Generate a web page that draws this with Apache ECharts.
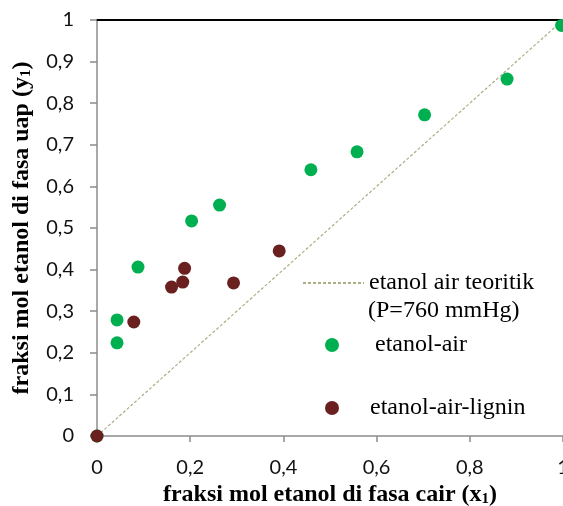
<!DOCTYPE html>
<html>
<head>
<meta charset="utf-8">
<script src="https://cdn.jsdelivr.net/npm/echarts@6/dist/echarts.min.js"></script>
<style>
  html, body { margin: 0; padding: 0; background: #fff; }
  #chart { width: 563px; height: 506px; }
</style>
</head>
<body>
<div id="chart"></div>
<script>
// data
var teoriX = [0, 1];
var teoriY = [0, 1];
var airX = [0, 0.043, 0.043, 0.088, 0.203, 0.263, 0.459, 0.558, 0.703, 0.880, 0.997];
var airY = [0, 0.224, 0.279, 0.406, 0.517, 0.555, 0.640, 0.683, 0.772, 0.858, 0.987];
var ligninX = [0, 0.079, 0.160, 0.184, 0.188, 0.293, 0.391];
var ligninY = [0, 0.274, 0.358, 0.370, 0.403, 0.368, 0.445];

function pairs(xs, ys) {
  var out = [];
  for (var i = 0; i < xs.length; i++) out.push([xs[i], ys[i]]);
  return out;
}

function koma(v) {
  return String(Math.round(v * 10) / 10).replace('.', ',');
}

var chart = echarts.init(document.getElementById('chart'));

var serif = '"Liberation Serif", "Times New Roman", serif';
var sans = 'Lato, "Open Sans", sans-serif';
var legendText = { fontFamily: serif, fontSize: 24, color: '#000' };

var option = {
  animation: false,
  grid: { left: 97, right: 0, top: 20, bottom: 70, containLabel: false, outerBoundsMode: 'none' },
  legend: [
    {
      data: ['etanol air teoritik'],
      left: 302, top: 271, padding: 0, itemWidth: 61, itemHeight: 28,
      itemStyle: { opacity: 0 },
      textStyle: legendText
    },
    {
      data: ['etanol-air'],
      left: 325, top: 333, padding: 0, itemWidth: 14, itemHeight: 28,
      textStyle: Object.assign({ padding: [0, 0, 0, 31] }, legendText)
    },
    {
      data: ['etanol-air-lignin'],
      left: 325, top: 396, padding: 0, itemWidth: 14, itemHeight: 28,
      textStyle: Object.assign({ padding: [0, 0, 0, 26] }, legendText)
    }
  ],
  graphic: [
    {
      type: 'text', left: 368, top: 299,
      style: { text: '(P=760 mmHg)', font: '24px ' + serif, fill: '#000' }
    }
  ],
  xAxis: [
    {
      type: 'value', min: 0, max: 1, interval: 0.2,
      name: 'fraksi mol etanol di fasa cair (x{s|1})',
      nameLocation: 'middle', nameGap: 46,
      nameTextStyle: {
        fontFamily: serif, fontSize: 24, fontWeight: 'bold', color: '#000',
        rich: { s: { fontFamily: serif, fontSize: 15, fontWeight: 'bold', color: '#000', padding: [9, 0, 0, 0] } }
      },
      axisLine: { show: true, onZero: false, lineStyle: { color: '#8c8c8c', width: 1.5 } },
      axisTick: { show: true, length: 6, lineStyle: { color: '#8c8c8c', width: 1.5 } },
      splitLine: { show: false },
      axisLabel: { formatter: koma, margin: 22, fontFamily: sans, fontSize: 20, color: '#111' }
    },
    {
      type: 'value', min: 0, max: 1, position: 'top',
      axisLine: { show: true, onZero: false, lineStyle: { color: '#000', width: 2 } },
      axisTick: { show: false }, axisLabel: { show: false }, splitLine: { show: false }
    }
  ],
  yAxis: {
    type: 'value', min: 0, max: 1, interval: 0.1,
    name: 'fraksi mol etanol di fasa uap (y{s|1})',
    nameLocation: 'middle', nameGap: 63, nameRotate: 90,
    nameTextStyle: {
      fontFamily: serif, fontSize: 24, fontWeight: 'bold', color: '#000',
      rich: { s: { fontFamily: serif, fontSize: 15, fontWeight: 'bold', color: '#000', padding: [9, 0, 0, 0] } }
    },
    axisLine: { show: true, onZero: false, lineStyle: { color: '#8c8c8c', width: 1.5 } },
    axisTick: { show: true, length: 7, lineStyle: { color: '#8c8c8c', width: 1.5 } },
    splitLine: { show: false },
    axisLabel: { formatter: koma, margin: 23, fontFamily: sans, fontSize: 20, color: '#111' }
  },
  series: [
    {
      name: 'etanol air teoritik', type: 'line',
      data: pairs(teoriX, teoriY),
      symbol: 'none', z: 1,
      itemStyle: { color: '#aeae84' },
      lineStyle: { color: '#aeae84', width: 1.2, type: [3, 2] }
    },
    {
      name: 'etanol-air', type: 'scatter',
      data: pairs(airX, airY),
      symbol: 'circle', symbolSize: 13, z: 3,
      itemStyle: { color: '#00b050', opacity: 1 }
    },
    {
      name: 'etanol-air-lignin', type: 'scatter',
      data: pairs(ligninX, ligninY),
      symbol: 'circle', symbolSize: 13, z: 4,
      itemStyle: { color: '#6b2020', opacity: 1 }
    }
  ]
};

chart.setOption(option);
</script>
</body>
</html>
